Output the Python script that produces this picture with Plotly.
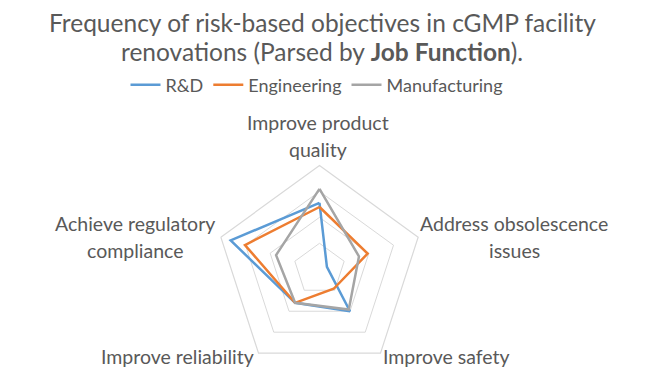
import plotly.graph_objects as go

categories = ["Improve product quality", "Address obsolescence issues", "Improve safety",
              "Improve reliability", "Achieve regulatory compliance"]
category_label_lines = [["Improve product", "quality"], ["Address obsolescence", "issues"],
                        ["Improve safety"], ["Improve reliability"],
                        ["Achieve regulatory", "compliance"]]
series_names = ["R&D", "Engineering", "Manufacturing"]
rnd = [25.6, 3, 20, 16, 36]
engineering = [24, 19.5, 9.3, 16, 30.2]
manufacturing = [31, 16, 19.2, 16, 17.6]
colors = ["#5B9BD5", "#ED7D31", "#A5A5A5"]
title_lines = ["Frequency of risk-based objectives in cGMP facility",
               "renovations (Parsed by <b>Job Function</b>)."]

FONT = "Lato"
TXT = "#595959"
W, H = 645, 373
cx, cy, R = 319.5, 269.5, 104

fig = go.Figure()
for name, vals, c in zip(series_names, [rnd, engineering, manufacturing], colors):
    fig.add_trace(go.Scatterpolar(
        r=vals + vals[:1], theta=categories + categories[:1], mode="lines", name=name,
        line=dict(color=c, width=2.5), hoverinfo="skip"))

# label positions in pixels: (center x, first line center y)
label_pos = [(318, 122.5), (514, 224), (446, 356.5), (177, 356.5), (135, 224)]
LINE_GAP = 26.5
annotations = []
for lines, (px, py) in zip(category_label_lines, label_pos):
    for i, ln in enumerate(lines):
        annotations.append(dict(text=ln, x=px / W, y=1 - (py + i * LINE_GAP) / H,
                                xref="paper", yref="paper", xanchor="center", yanchor="middle",
                                showarrow=False, font=dict(family=FONT, size=19.5, color=TXT)))
for i, ln in enumerate(title_lines):
    annotations.append(dict(text=ln, x=322 / W, y=1 - (22 + 30 * i) / H, xref="paper", yref="paper",
                            xanchor="center", yanchor="middle", showarrow=False,
                            font=dict(family=FONT, size=24.5, color=TXT)))

fig.update_layout(
    width=W, height=H, margin=dict(l=0, r=0, t=0, b=0),
    paper_bgcolor="white", plot_bgcolor="white",
    font=dict(family=FONT, color=TXT, size=18),
    annotations=annotations,
    legend=dict(orientation="h", x=317 / W, xanchor="center", y=1 - 85 / H, yanchor="middle",
                font=dict(family=FONT, size=18, color=TXT), itemwidth=30,
                tracegroupgap=0),
    polar=dict(
        domain=dict(x=[(cx - R) / W, (cx + R) / W], y=[0, (H - cy + R) / H]),
        gridshape="linear", bgcolor="white",
        radialaxis=dict(range=[0, 40], dtick=10, showticklabels=False, ticks="",
                        showline=False, gridcolor="#D9D9D9", gridwidth=1.2),
        angularaxis=dict(direction="clockwise", rotation=90, showgrid=False,
                         showticklabels=False, linecolor="#D9D9D9", linewidth=1.2, ticks=""),
    ),
)
fig.write_html("out.html", config={"displayModeBar": False},
               post_script="document.body.style.margin='0';")
